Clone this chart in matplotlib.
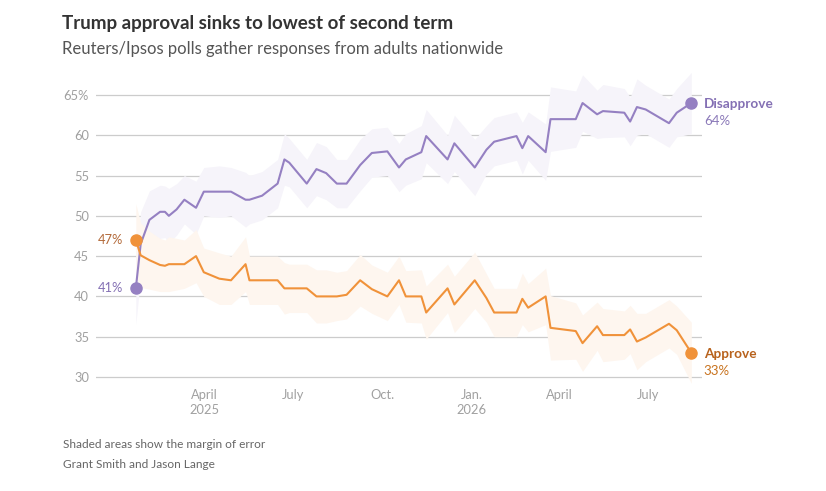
import pandas as pd
import matplotlib.pyplot as plt

plt.rcParams['font.family'] = ['Lato', 'DejaVu Sans']

# poll dates and readings
dates = ["2025-01-20", "2025-01-25", "2025-02-03", "2025-02-14", "2025-02-19",
         "2025-02-23", "2025-03-03", "2025-03-11", "2025-03-23", "2025-03-31",
         "2025-04-16", "2025-04-28", "2025-05-13", "2025-05-17", "2025-05-30",
         "2025-06-15", "2025-06-22", "2025-06-27", "2025-07-15", "2025-07-25",
         "2025-08-04", "2025-08-15", "2025-08-25", "2025-09-08", "2025-09-20",
         "2025-10-06", "2025-10-18", "2025-10-25", "2025-11-10", "2025-11-15",
         "2025-12-07", "2025-12-14", "2026-01-04", "2026-01-16", "2026-01-24",
         "2026-02-16", "2026-02-22", "2026-02-28", "2026-03-18", "2026-03-23",
         "2026-04-18", "2026-04-25", "2026-05-10", "2026-05-16", "2026-06-07",
         "2026-06-13", "2026-06-20", "2026-06-29", "2026-07-23", "2026-07-31",
         "2026-08-15"]

disapprove = [41, 46.5, 49.5, 50.5, 50.5, 50, 50.8, 52, 51, 53,
              53, 53, 52, 52, 52.5, 54, 57, 56.6, 54, 55.8,
              55.3, 54, 54, 56.3, 57.8, 58, 56, 57, 57.9, 59.9,
              57, 59, 56, 58.2, 59.2, 59.9, 58.4, 59.9, 57.9, 62,
              62, 64, 62.6, 63, 62.8, 61.7, 63.5, 63.2, 61.5, 62.8,
              64]

approve = [47, 45.1, 44.5, 43.9, 43.8, 44, 44, 44, 45, 43,
           42.2, 42, 44, 42, 42, 42, 41, 41, 41, 40,
           40, 40, 40.2, 42, 40.9, 40, 42, 40, 40, 38,
           41, 39, 42, 39.8, 38, 38, 39.7, 38.6, 40, 36.1,
           35.7, 34.2, 36.3, 35.2, 35.2, 35.9, 34.4, 34.9, 36.6, 35.8,
           33]

margin = [4.5, 4.0, 3.6, 3.3, 3.2, 3.4, 3.2, 3.0, 3.3, 3.0,
          3.2, 3.0, 3.4, 3.0, 3.0, 3.0, 3.2, 3.0, 3.0, 3.3,
          3.3, 3.0, 3.0, 3.2, 3.0, 3.0, 3.0, 3.2, 3.3, 3.3,
          3.0, 3.5, 3.5, 3.0, 3.0, 3.0, 3.2, 3.0, 3.5, 4.0,
          3.5, 3.5, 3.0, 3.3, 3.0, 3.0, 3.5, 3.0, 3.0, 3.0,
          3.8]

yticks = [30, 35, 40, 45, 50, 55, 60, 65]
ytick_labels = ["30", "35", "40", "45", "50", "55", "60", "65%"]
xtick_dates = ["2025-04-01", "2025-07-01", "2025-10-01", "2026-01-01", "2026-04-01", "2026-07-01"]
xtick_labels = ["April\n2025", "July", "Oct.", "Jan.\n2026", "April", "July"]

purple = "#9580c2"
orange = "#f0923a"

df = pd.DataFrame({"date": pd.to_datetime(dates), "dis": disapprove,
                   "app": approve, "moe": margin})

fig = plt.figure(figsize=(8.26, 4.91), dpi=100)
ax = fig.add_axes([96 / 826, 0.1994, 606 / 826, 0.6564])

ax.fill_between(df["date"], df["dis"] - df["moe"], df["dis"] + df["moe"],
                color="#f6f4fa", lw=0, zorder=1)
ax.fill_between(df["date"], df["app"] - df["moe"], df["app"] + df["moe"],
                color="#fef6ef", lw=0, zorder=1)
ax.plot(df["date"], df["dis"], color=purple, lw=1.5, zorder=3, solid_joinstyle="round")
ax.plot(df["date"], df["app"], color=orange, lw=1.5, zorder=3, solid_joinstyle="round")

first = df.iloc[0]
last = df.iloc[-1]
for col, c in [("dis", purple), ("app", orange)]:
    ax.plot([first["date"], last["date"]], [first[col], last[col]], "o", ms=8,
            color=c, zorder=4, clip_on=False, lw=0)

ax.set_xlim(pd.Timestamp("2024-12-10"), pd.Timestamp("2026-08-26"))
ax.set_ylim(28, 68)
ax.set_yticks(yticks)
ax.set_yticklabels(ytick_labels)
ax.set_xticks(pd.to_datetime(xtick_dates))
ax.set_xticklabels(xtick_labels, linespacing=1.3)
ax.tick_params(axis="both", length=0, labelsize=9.3, labelcolor="#a0a0a0")
ax.tick_params(axis="y", pad=5)
ax.tick_params(axis="x", pad=-3)
ax.yaxis.grid(True, color="#cccccc", lw=0.9)
ax.set_axisbelow(True)
for s in ax.spines.values():
    s.set_visible(False)
ax.patch.set_alpha(0)

# end labels
ax.annotate("Disapprove", (last["date"], last["dis"]), xytext=(9, -1), textcoords="offset points",
            fontsize=9.8, fontweight="bold", color="#8470b4", va="center", annotation_clip=False)
ax.annotate(f"{last['dis']:.0f}%", (last["date"], last["dis"]), xytext=(9, -13), textcoords="offset points",
            fontsize=9.5, color="#8a78b8", va="center", annotation_clip=False)
ax.annotate("Approve", (last["date"], last["app"]), xytext=(9, -1), textcoords="offset points",
            fontsize=9.8, fontweight="bold", color="#b8621c", va="center", annotation_clip=False)
ax.annotate(f"{last['app']:.0f}%", (last["date"], last["app"]), xytext=(9, -13), textcoords="offset points",
            fontsize=9.5, color="#c8731f", va="center", annotation_clip=False)
ax.annotate(f"{first['app']:.0f}%", (first["date"], first["app"]), xytext=(-9, 0), textcoords="offset points",
            fontsize=9.3, color="#b36a3a", va="center", ha="right")
ax.annotate(f"{first['dis']:.0f}%", (first["date"], first["dis"]), xytext=(-9, 0), textcoords="offset points",
            fontsize=9.3, color="#8470b4", va="center", ha="right")

fig.text(62 / 826, 1 - 23 / 491, "Trump approval sinks to lowest of second term",
         fontsize=13.5, fontweight="bold", color="#333333", va="center")
fig.text(62 / 826, 1 - 49 / 491, "Reuters/Ipsos polls gather responses from adults nationwide",
         fontsize=12, color="#555555", va="center")
fig.text(63 / 826, 1 - 444 / 491, "Shaded areas show the margin of error",
         fontsize=8.6, color="#666666", va="center")
fig.text(63 / 826, 1 - 465 / 491, "Grant Smith and Jason Lange",
         fontsize=8.6, color="#666666", va="center")

fig.savefig("out.png", dpi=100)
